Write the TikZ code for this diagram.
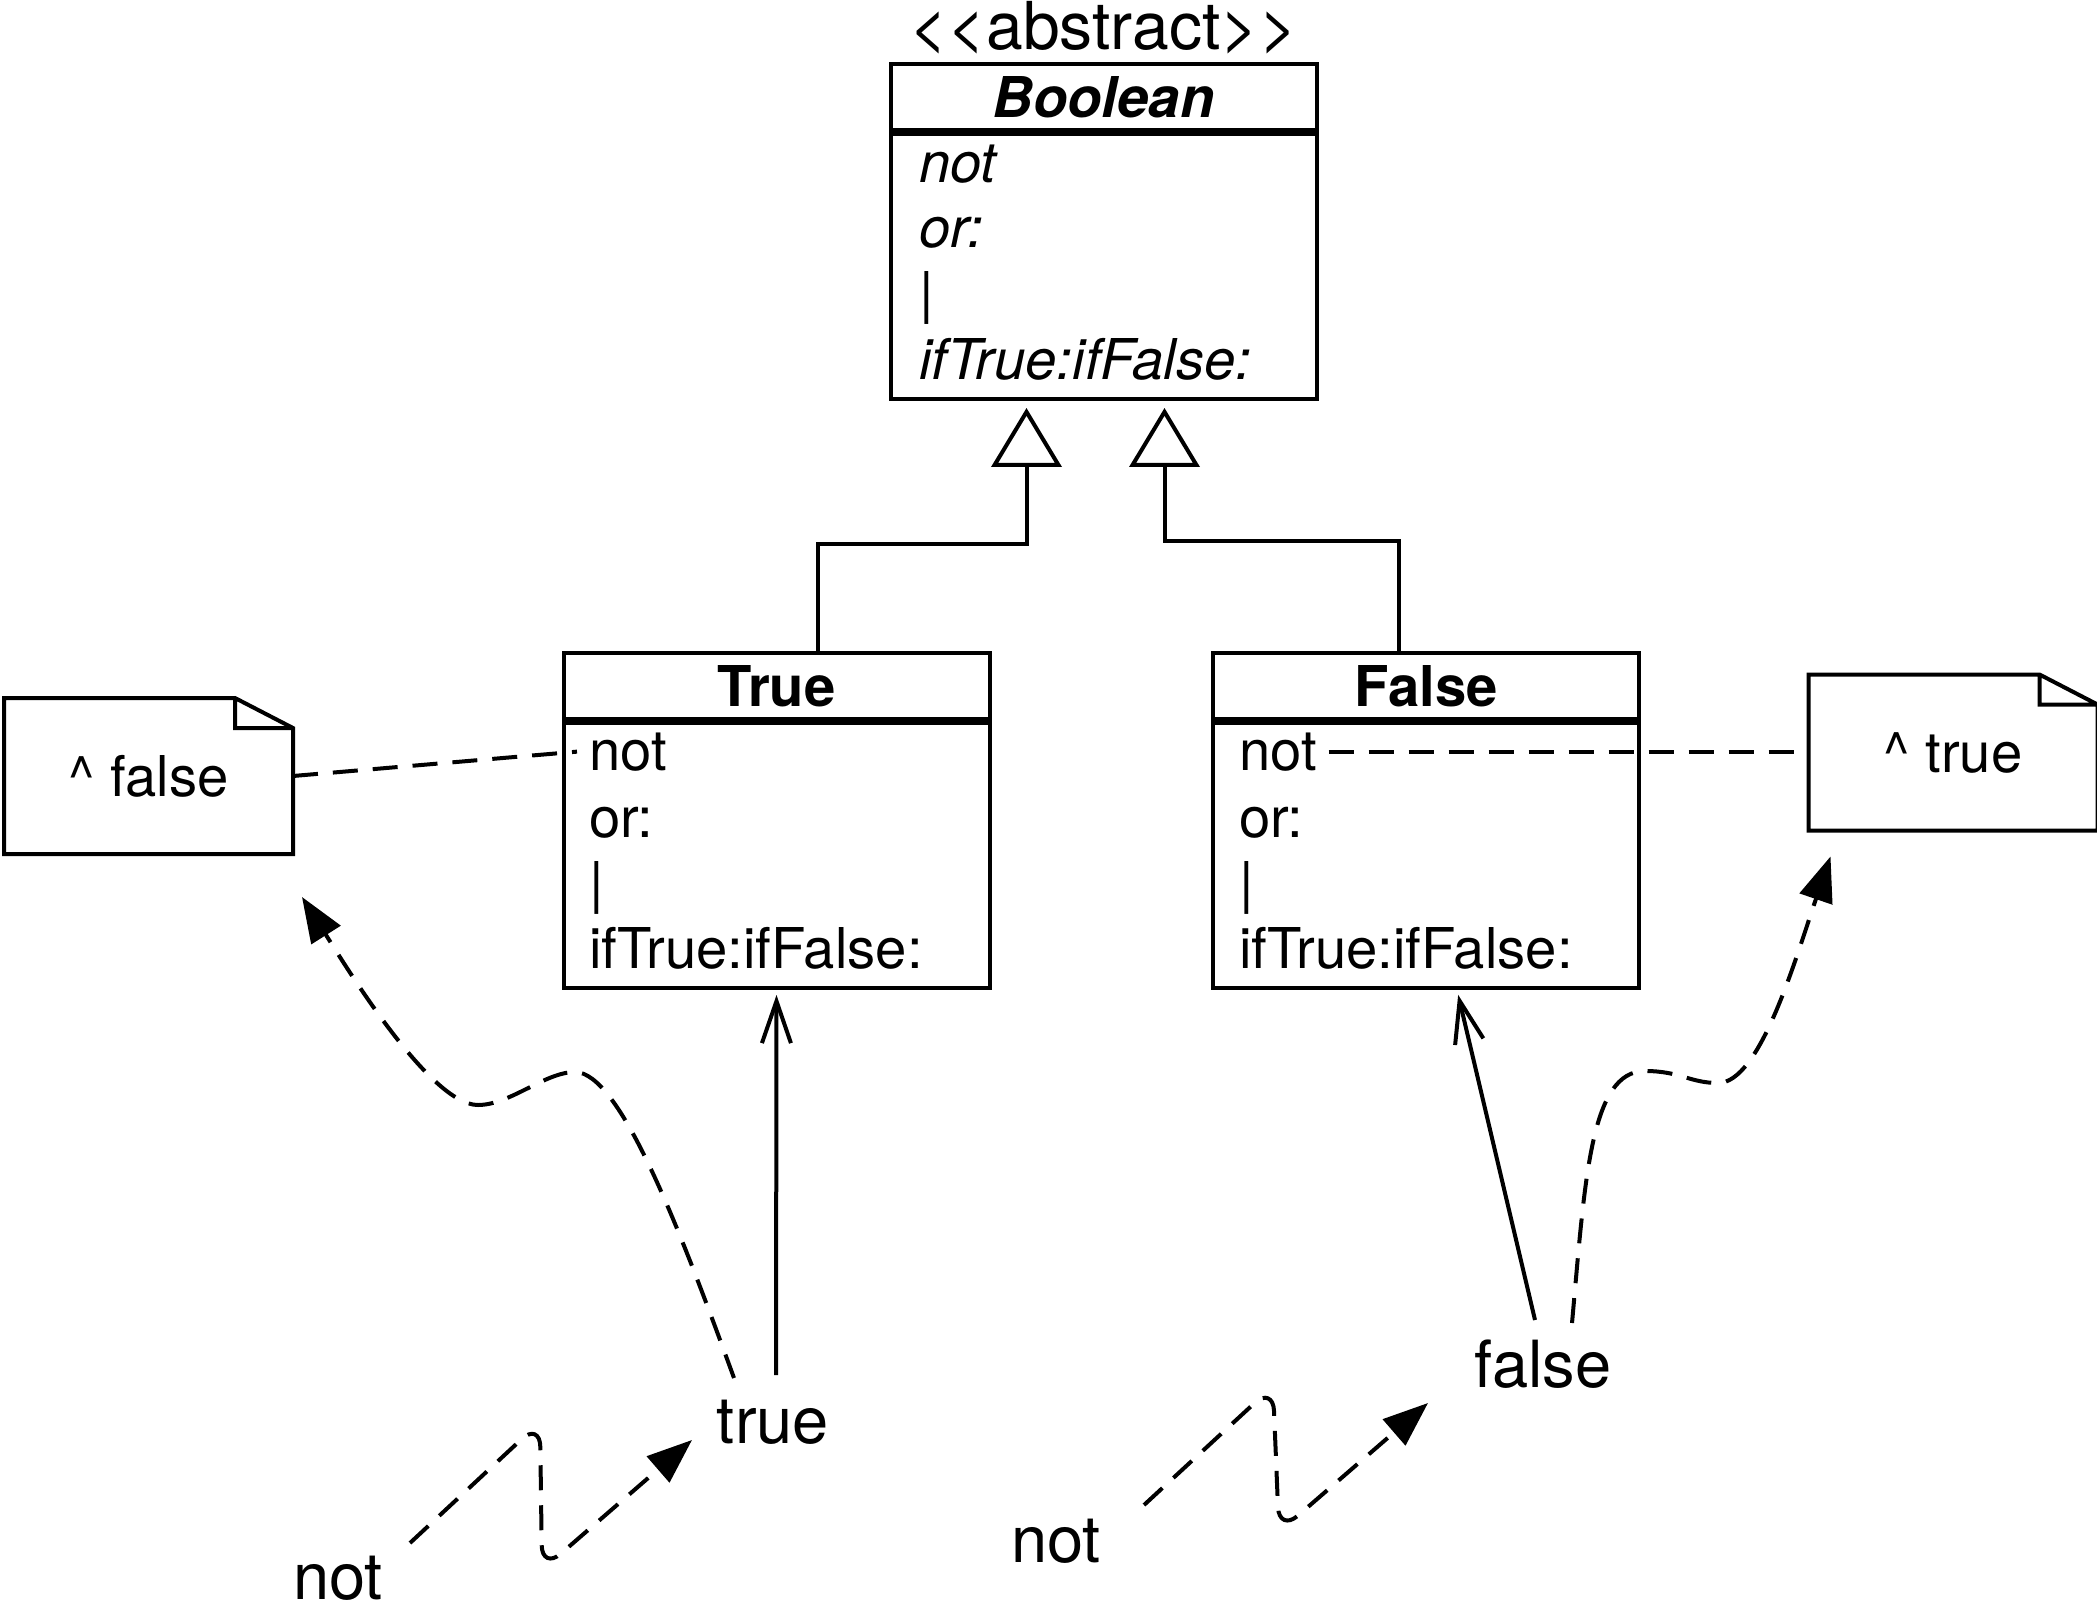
\documentclass[tikz,border=0pt]{standalone}
\usepackage{fontspec}
\setmainfont{TeX Gyre Heros}
\newfontfamily\stereofont{TeX Gyre Heros}
\usetikzlibrary{positioning, arrows.meta, calc}

\newcommand\umlfont{\fontsize{16pt}{19pt}\selectfont}
\newcommand\msgfont{\fontsize{18.5pt}{22pt}\selectfont}

\begin{document}
\begin{tikzpicture}[x=0.1mm,y=-0.1mm,line width=0.4mm,
    class head/.style={draw,rectangle,minimum width=42.6mm,minimum height=6.6mm,
                       inner sep=0pt,font=\umlfont\bfseries},
    class body/.style={draw,rectangle,minimum width=42.6mm,minimum height=26.5mm,inner sep=0pt},
    oprow/.style={anchor=base west,inner xsep=1mm,inner ysep=0pt,font=\umlfont},
    msglabel/.style={anchor=base,inner sep=0pt,font=\msgfont},
    notebox/.style={minimum width=28.5mm,minimum height=15.2mm,inner sep=0pt,font=\umlfont},
    inheritarrow/.style={-{Triangle[open,length=5.9mm,width=7mm]}},
    refarrow/.style={-{Straight Barb[length=4.2mm,width=2.9mm]},shorten >=0.5mm},
    sendarrow/.style={-{Triangle[length=4.5mm,width=3.4mm]},dash pattern=on 2.5mm off 1.5mm},
    notelink/.style={dash pattern=on 2.5mm off 1.5mm}]

  \useasboundingbox (0,0) rectangle (2097,1607);

  % abstract class
  \node[class head] (boolHead) at (1103.5,97) {\itshape Boolean};
  \node[class body, below=0pt of boolHead] (boolOps) {};
  \node[anchor=base,inner sep=0pt,font=\stereofont\fontsize{18.8pt}{22pt}\selectfont]
    (boolStereo) at (1103.5,50) {<<abstract>>};
  \node[oprow] (boolNot) at (907,183) {\itshape not};
  \node[oprow] (boolOr) at (907,248) {\itshape or:};
  \node[oprow] (boolBar) at (907,313) {\itshape |};
  \node[oprow] (boolIf) at (907,380) {\itshape ifTrue:ifFalse:};

  % subclasses
  \node[class head] (trueHead) at (776.5,686) {True};
  \node[class body, below=0pt of trueHead] (trueOps) {};
  \node[oprow] (trueNot) at (577,770) {not};
  \node[oprow] (trueOr) at (577,837) {or:};
  \node[oprow] (trueBar) at (577,902) {|};
  \node[oprow] (trueIf) at (577,968) {ifTrue:ifFalse:};

  \node[class head] (falseHead) at (1426,686) {False};
  \node[class body, below=0pt of falseHead] (falseOps) {};
  \node[oprow] (falseNot) at (1227,770) {not};
  \node[oprow] (falseOr) at (1227,837) {or:};
  \node[oprow] (falseBar) at (1227,902) {|};
  \node[oprow] (falseIf) at (1227,968) {ifTrue:ifFalse:};

  % notes
  \node[notebox] (noteF) at (148.5,776) {\textasciicircum\ false};
  \node[notebox] (noteT) at (1953,752.5) {\textasciicircum\ true};
  \draw (noteF.north west) -- ($(noteF.north east)+(-58,0)$) -- ($(noteF.north east)+(0,30)$)
        -- (noteF.south east) -- (noteF.south west) -- cycle
        ($(noteF.north east)+(-58,0)$) |- ($(noteF.north east)+(0,30)$);
  \draw (noteT.north west) -- ($(noteT.north east)+(-58,0)$) -- ($(noteT.north east)+(0,30)$)
        -- (noteT.south east) -- (noteT.south west) -- cycle
        ($(noteT.north east)+(-58,0)$) |- ($(noteT.north east)+(0,30)$);

  % messages
  \node[msglabel] (notA) at (338,1599) {not};
  \node[msglabel] (trueLbl) at (773,1443) {true};
  \node[msglabel] (notB) at (1056,1562) {not};
  \node[msglabel] (falseLbl) at (1543,1387) {false};

  \draw[inheritarrow] ($(trueHead.north)+(41,0)$) -- ++(0,-107) -| ($(boolOps.south)+(-77,7)$);
  \draw[inheritarrow] ($(falseHead.north)+(-27,0)$) -- ++(0,-110) -| ($(boolOps.south)+(61,7)$);

  \draw[notelink] (noteF.east) -- (trueNot.west);
  \draw[notelink] (falseNot.east) -- (falseNot.east -| noteT.west);

  \draw[refarrow] ($(trueLbl.base)+(3,-68)$) -- (trueOps.south);
  \draw[refarrow] ($(falseLbl.base)+(-8,-67)$) -- ($(falseOps.south)+(31,0)$);

  \draw[sendarrow,rounded corners=2.5mm] ($(notA.base)+(72,-56)$) -- (540,1422) -- (542,1570)
        -- ($(trueLbl.base)+(-81,-3)$);
  \draw[sendarrow,rounded corners=2.5mm] ($(notB.base)+(88,-57)$) -- (1273,1386) -- (1279,1532)
        -- ($(falseLbl.base)+(-115,16)$);

  \draw[sendarrow] ($(trueLbl.base)+(-39,-65)$) .. controls (680,1230) and (620,1072) .. (575,1072)
        .. controls (545,1072) and (510,1105) .. (478,1105)
        .. controls (430,1105) and (345,965) .. ($(noteF.south east)+(9,43)$);
  \draw[sendarrow] ($(falseLbl.base)+(29,-64)$) .. controls (1585,1180) and (1590,1071) .. (1645,1071)
        .. controls (1680,1071) and (1690,1083) .. (1718,1083)
        .. controls (1760,1083) and (1795,960) .. ($(noteT.south west)+(22,26)$);
\end{tikzpicture}
\end{document}
